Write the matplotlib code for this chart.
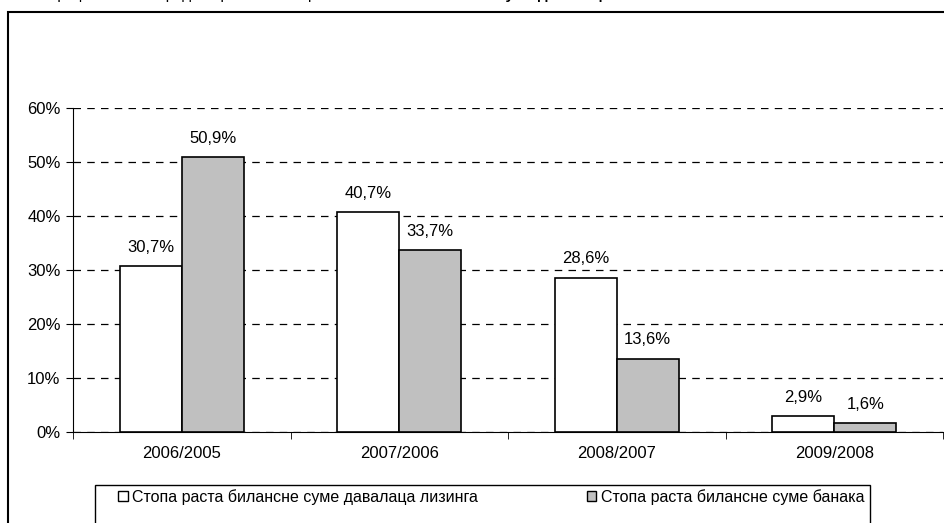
import numpy as np
import matplotlib.pyplot as plt
from matplotlib.patches import Rectangle, Patch

# Подаци
periods = ['2006/2005', '2007/2006', '2008/2007', '2009/2008']
leasing_growth = [30.7, 40.7, 28.6, 2.9]
bank_growth = [50.9, 33.7, 13.6, 1.6]
series_names = ['Стопа раста билансне суме давалаца лизинга',
                'Стопа раста билансне суме банака']
yticks = [0, 10, 20, 30, 40, 50, 60]

plt.rcParams['font.family'] = ['Liberation Sans', 'DejaVu Sans']
plt.rcParams['font.size'] = 12

W, H = 944, 523
fig = plt.figure(figsize=(W / 100, H / 100), dpi=100)

# спољни оквир (делимично изван слике)
fig.patches.append(Rectangle((8 / W, -0.1), 1.2, 1 - 12 / H + 0.1,
                             transform=fig.transFigure, fill=False,
                             edgecolor='black', lw=1.5))
# наслов одсечен на врху
fig.text(50 / W, 1 + 0.5 / H, 'Графикон 2: Упоредни приказ стопе раста',
         ha='left', va='baseline', fontsize=11)
fig.text(420 / W, 1 + 0.5 / H, 'билансне суме давалаца лизинга и банака',
         ha='left', va='baseline', fontsize=11, fontweight='bold')

ax = fig.add_axes([73 / W, 1 - 432 / H, (943 - 73) / W, (432 - 108) / H])
x = np.arange(len(periods))
w = 0.285
b1 = ax.bar(x - w / 2, leasing_growth, w, color='white', edgecolor='black', lw=1.2, zorder=3)
b2 = ax.bar(x + w / 2, bank_growth, w, color='#c0c0c0', edgecolor='black', lw=1.2, zorder=3)

for bars, vals in ((b1, leasing_growth), (b2, bank_growth)):
    for r, v in zip(bars, vals):
        ax.annotate(f'{v:.1f}%'.replace('.', ','),
                    (r.get_x() + r.get_width() / 2, r.get_height()),
                    xytext=(0, 8), textcoords='offset points',
                    ha='center', va='bottom')

ax.set_ylim(0, 60)
ax.set_xlim(-0.5, len(periods) - 0.5)
ax.set_yticks(yticks)
ax.set_yticklabels([f'{t}%' for t in yticks])
ax.yaxis.grid(True, color='black', linestyle=(0, (6, 5)), lw=0.9, zorder=0)
ax.set_xticks(x)
ax.set_xticklabels(periods)
ax.set_xticks(np.arange(len(periods) + 1) - 0.5, minor=True)
ax.tick_params(axis='x', which='major', length=0, pad=10)
ax.tick_params(axis='x', which='minor', length=5, direction='out')
ax.tick_params(axis='y', length=5, direction='out', pad=4)
ax.spines['top'].set_visible(False)
ax.spines['right'].set_visible(False)
ax.spines['left'].set_color('black')
ax.spines['bottom'].set_color('black')

# легенда
fig.patches.append(Rectangle((95 / W, -0.1), (870 - 95) / W, 1 - 485 / H + 0.1,
                             transform=fig.transFigure, fill=False,
                             edgecolor='black', lw=1.0))
handles = [Patch(facecolor='white', edgecolor='black'),
           Patch(facecolor='#c0c0c0', edgecolor='black')]
fig.legend(handles, series_names, loc='center left',
           bbox_to_anchor=(118 / W, 1 - 497 / H), ncol=2, frameon=False,
           fontsize=11.5, handlelength=0.6, handleheight=0.6, handletextpad=0.3,
           columnspacing=6.8, borderpad=0, borderaxespad=0)

fig.savefig('out.png', dpi=100)
